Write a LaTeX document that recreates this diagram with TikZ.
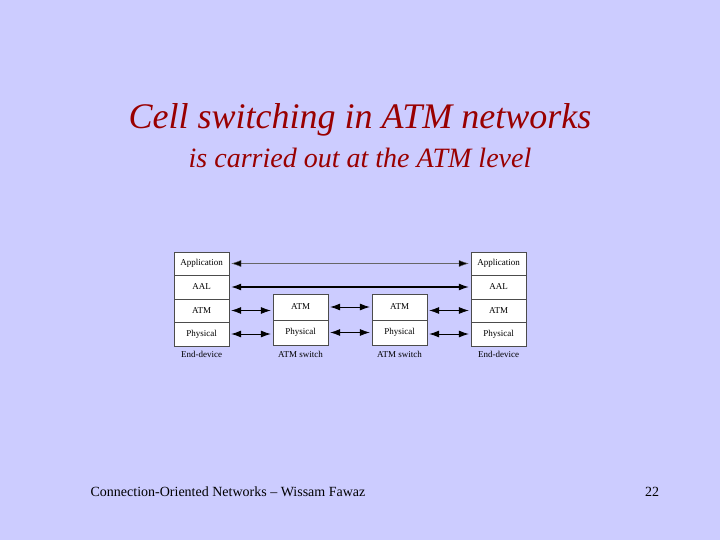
\documentclass[tikz,border=0pt]{standalone}
\usepackage{fontspec}
\setmainfont{Liberation Serif}
\usetikzlibrary{arrows.meta}
\definecolor{slidebg}{RGB}{204,204,255}
\definecolor{titlered}{RGB}{153,0,0}
\tikzset{layer/.style={draw=black!70, fill=white, minimum width=55pt, minimum height=23.5pt, inner sep=0pt, font=\fontsize{9}{10}\selectfont},
         lbl/.style={font=\fontsize{9}{10}\selectfont},
         link/.style={{Latex[length=10pt,width=7pt]}-{Latex[length=10pt,width=7pt]}, thick, shorten <=2pt, shorten >=2pt}}
\begin{document}
\begin{tikzpicture}[x=1pt,y=-1pt]
  \fill[slidebg] (0,0) rectangle (720,540);
  \useasboundingbox (0,0) rectangle (720,540);
  \node[text=titlered, font=\fontsize{36}{40}\selectfont\itshape] (title) at (360,120) {Cell switching in ATM networks};
  \node[text=titlered, font=\fontsize{28}{32}\selectfont\itshape] (sub) at (360,158) {is carried out at the ATM level};
  % end-device left
  \node[layer] (la) at (201.5,263.5) {Application};
  \node[layer] (lb) at (201.5,287) {AAL};
  \node[layer] (lc) at (201.5,310.5) {ATM};
  \node[layer] (ld) at (201.5,334) {Physical};
  % end-device right
  \node[layer] (ra) at (498.5,263.5) {Application};
  \node[layer] (rb) at (498.5,287) {AAL};
  \node[layer] (rc) at (498.5,310.5) {ATM};
  \node[layer] (rd) at (498.5,334) {Physical};
  % switches
  \node[layer, minimum height=26pt] (sa) at (300.5,307) {ATM};
  \node[layer, minimum height=25pt] (sb) at (300.5,332.5) {Physical};
  \node[layer, minimum height=26pt] (ta) at (399.5,307) {ATM};
  \node[layer, minimum height=25pt] (tb) at (399.5,332.5) {Physical};
  % captions
  \node[lbl] (c1) at (201.5,354) {End-device};
  \node[lbl] (c2) at (300.5,354) {ATM switch};
  \node[lbl] (c3) at (399.5,354) {ATM switch};
  \node[lbl] (c4) at (498.5,354) {End-device};
  % links
  \draw[link, thin, draw=black!60, {Latex[length=10pt,width=7pt,fill=black]}-{Latex[length=10pt,width=7pt,fill=black]}] (la) -- (ra);
  \draw[link, very thick] (lb) -- (rb);
  \draw[link] (lc.east) -- (lc.east -| sa.west);
  \draw[link] (ld.east) -- (ld.east -| sb.west);
  \draw[link] (sa) -- (ta);
  \draw[link] (sb) -- (tb);
  \draw[link] (rc.west -| ta.east) -- (rc.west);
  \draw[link] (rd.west -| tb.east) -- (rd.west);
  \node[font=\fontsize{14}{16}\selectfont] (foot) at (228,492) {Connection-Oriented Networks -- Wissam Fawaz};
  \node[font=\fontsize{14}{16}\selectfont] (num) at (652,492) {22};
\end{tikzpicture}
\end{document}
